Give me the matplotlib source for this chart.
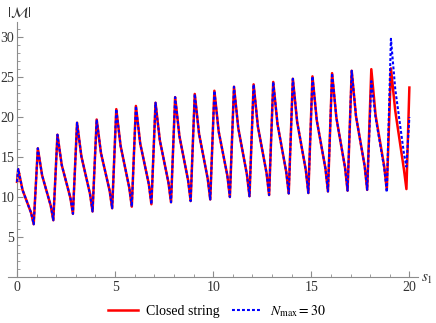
import numpy as np
import matplotlib.pyplot as plt
from matplotlib.ticker import MultipleLocator
from matplotlib.lines import Line2D

plt.rcParams['font.family'] = ['Liberation Serif', 'DejaVu Serif']
plt.rcParams['mathtext.fontset'] = 'stix'

# values, one entry per period n = 0..19
# peak just after s = n, then the fall, then the dip just before n + 1
periods = np.arange(20)
offsets = [0.06, 0.28, 0.72, 0.85]

red_start = 11.9
red_end = 23.7
red_peak = [13.5, 16.1, 17.8, 19.3, 19.7, 21.0, 21.4, 21.8, 22.5, 22.9,
            23.3, 23.8, 24.1, 24.4, 24.8, 25.1, 25.5, 25.8, 26.0, 26.1]
red_drop = [10.9, 12.7, 14.0, 15.1, 15.5, 16.4, 16.7, 17.1, 17.6, 17.9,
            18.2, 18.6, 18.8, 19.1, 19.4, 19.6, 19.9, 20.1, 20.2, 20.8]
red_late = [8.0, 8.9, 9.9, 10.4, 10.8, 11.2, 11.6, 11.8, 12.1, 12.3,
            12.7, 12.8, 13.0, 13.2, 13.4, 13.6, 13.7, 13.9, 13.8, 13.5]
red_min = [6.6, 7.1, 7.9, 8.2, 8.6, 8.8, 9.1, 9.35, 9.5, 9.7,
           10.0, 10.1, 10.25, 10.45, 10.5, 10.7, 10.8, 10.9, 10.9, 11.0]

# N_max = 30 follows the closed string except in the last two periods
blue_start = 11.9
blue_end = 20.0
blue_peak = red_peak[:18] + [24.5, 29.8]
blue_drop = red_drop[:18] + [19.9, 23.5]
blue_late = red_late[:18] + [13.6, 15.5]
blue_min = red_min[:18] + [10.6, 13.8]


def curve(start, peaks, drops, lates, mins, end):
    s = [0.0]
    y = [start]
    for n in periods:
        s += [n + o for o in offsets]
        y += [peaks[n], drops[n], lates[n], mins[n]]
    s.append(20.0)
    y.append(end)
    return s, y


s_red, y_red = curve(red_start, red_peak, red_drop, red_late, red_min, red_end)
s_blue, y_blue = curve(blue_start, blue_peak, blue_drop, blue_late, blue_min, blue_end)

fig = plt.figure(figsize=(4.36, 3.23), dpi=100)
ax = fig.add_axes([8 / 436, 46 / 323, 410 / 436, 255 / 323])

ax.plot(s_red, y_red, color='#ff0000', lw=1.8, solid_joinstyle='round', zorder=2)
ax.plot(s_blue, y_blue, color='#0000ff', lw=1.5, linestyle=(0, (1.4, 1.0)), zorder=3)

ax.set_xlim(-0.46, 20.44)
ax.set_ylim(0, 31.9)

# axes through the origin, Mathematica style
axis_grey = '#8c8c8c'
ax.spines['left'].set_position(('data', 0))
ax.spines['bottom'].set_position(('data', 0))
ax.spines['top'].set_visible(False)
ax.spines['right'].set_visible(False)
for side in ['left', 'bottom']:
    ax.spines[side].set_color(axis_grey)
    ax.spines[side].set_linewidth(0.8)

ax.set_xticks([0, 5, 10, 15, 20])
ax.set_yticks([5, 10, 15, 20, 25, 30])
ax.xaxis.set_minor_locator(MultipleLocator(1))
ax.yaxis.set_minor_locator(MultipleLocator(1))
ax.tick_params(which='major', direction='in', length=4, width=0.8,
               color=axis_grey, labelcolor='#333333', labelsize=10, pad=3)
ax.tick_params(which='minor', direction='in', length=2.5, width=0.6, color=axis_grey)
ax.tick_params(axis='y', pad=2)

fig.text(19 / 436, 1 - 12 / 323, r'$|\mathcal{M}|$', fontsize=11,
         ha='center', va='center', color='#333333')
fig.text(421 / 436, 1 - 279 / 323, r'$s_1$', fontsize=11,
         ha='left', va='center', color='#333333')

handles = [Line2D([], [], color='#ff0000', lw=1.8),
           Line2D([], [], color='#0000ff', lw=1.5, linestyle=(0, (1.4, 1.0)))]
labels = ['Closed string', r'$N_{\mathrm{max}} = 30$']
fig.legend(handles, labels, loc='center', bbox_to_anchor=(217 / 436, 12 / 323),
           ncol=2, frameon=False, fontsize=10, handlelength=2.15,
           handletextpad=0.6, columnspacing=0.9)

fig.savefig('out.png', dpi=100)
